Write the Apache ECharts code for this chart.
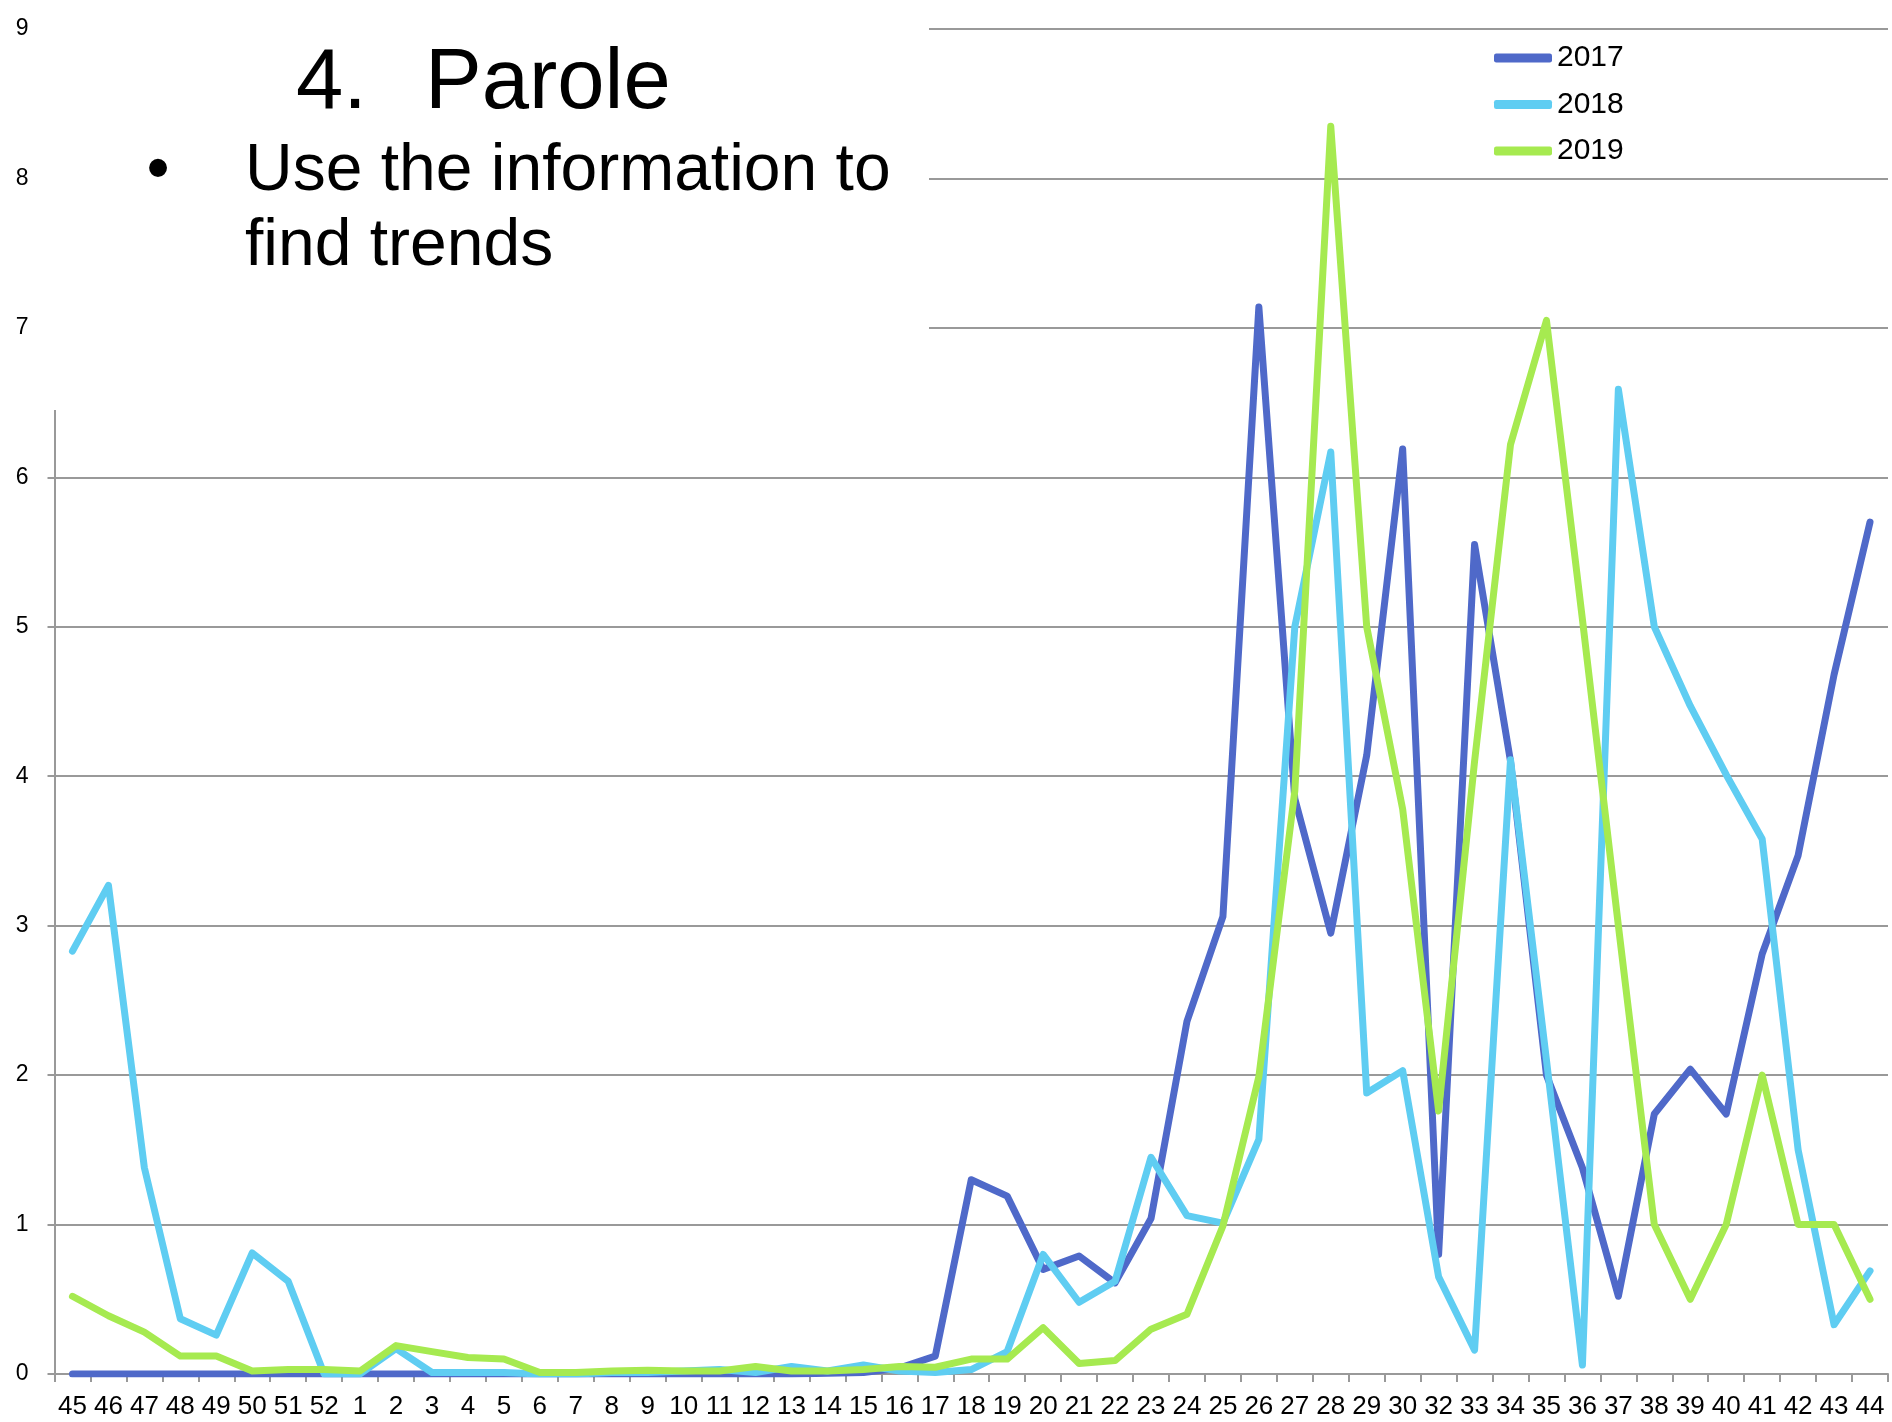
<!DOCTYPE html>
<html>
<head>
<meta charset="utf-8">
<script src="https://cdn.jsdelivr.net/npm/echarts@6/dist/echarts.min.js"></script>
<style>
  html, body { margin: 0; padding: 0; background: #fff; }
  #main { width: 1892px; height: 1422px; }
</style>
</head>
<body>
<div id="main"></div>
<script>
// weeks on the x axis (31 is missing in the source)
var weeks = ['45', '46', '47', '48', '49', '50', '51', '52',
    '1', '2', '3', '4', '5', '6', '7', '8', '9', '10', '11', '12', '13', '14', '15', '16', '17',
    '18', '19', '20', '21', '22', '23', '24', '25', '26', '27', '28', '29', '30',
    '32', '33', '34', '35', '36', '37', '38', '39', '40', '41', '42', '43', '44'];

var y2017 = [0, 0, 0, 0, 0, 0, 0, 0,
    0, 0, 0, 0, 0, 0, 0, 0, 0, 0, 0, 0, 0, 0.005, 0.01, 0.04, 0.12,
    1.30, 1.19, 0.70, 0.79, 0.61, 1.04, 2.36, 3.06, 7.14, 3.85, 2.95, 4.14, 6.19,
    0.80, 5.55, 4.1, 2.0, 1.38, 0.52, 1.74, 2.04, 1.74, 2.81, 3.47, 4.68, 5.70];

var y2018 = [2.83, 3.27, 1.38, 0.37, 0.26, 0.81, 0.62, 0,
    0, 0.17, 0.01, 0.01, 0.01, 0, 0, 0.01, 0.01, 0.02, 0.03, 0.01, 0.05, 0.02, 0.06, 0.02, 0.01,
    0.03, 0.15, 0.80, 0.48, 0.62, 1.45, 1.06, 1.01, 1.57, 5.0, 6.17, 1.88, 2.03,
    0.65, 0.16, 4.11, 2.1, 0.06, 6.59, 5.0, 4.47, 4.01, 3.58, 1.5, 0.33, 0.69];

var y2019 = [0.52, 0.39, 0.28, 0.12, 0.12, 0.02, 0.03, 0.03,
    0.02, 0.19, 0.15, 0.11, 0.10, 0.01, 0.01, 0.02, 0.025, 0.02, 0.02, 0.05, 0.02, 0.02, 0.03, 0.05, 0.045,
    0.1, 0.1, 0.31, 0.07, 0.09, 0.30, 0.40, 0.99, 1.99, 3.9, 8.35, 5.0, 3.78,
    1.76, 4.1, 6.22, 7.05, 5.05, 3.0, 1.0, 0.5, 1.0, 2.0, 1.0, 1.0, 0.5];

var font = 'Liberation Sans';
var grey = '#999';

var myChart = echarts.init(document.getElementById('main'));

function line(name, data, color) {
    return {
        name: name,
        type: 'line',
        data: data,
        symbol: 'none',
        lineStyle: { width: 7, color: color, cap: 'round', join: 'round' },
        itemStyle: { color: color }
    };
}

var option = {
    animation: false,
    backgroundColor: '#fff',
    grid: { left: 54.5, right: 4, top: 29, bottom: 48, containLabel: false, outerBoundsMode: 'none' },
    legend: {
        orient: 'vertical',
        left: 1489,
        top: 38,
        icon: 'roundRect',
        itemWidth: 58,
        itemHeight: 9,
        itemGap: 16.5,
        textStyle: { fontSize: 30, fontFamily: font, color: '#000' },
        data: ['2017', '2018', '2019']
    },
    xAxis: {
        type: 'category',
        data: weeks,
        boundaryGap: true,
        axisLine: { lineStyle: { color: grey, width: 2 } },
        axisTick: { show: true, length: 8, lineStyle: { color: grey, width: 2 } },
        axisLabel: { interval: 0, margin: 20, fontSize: 26, fontFamily: font, color: '#000' },
        splitLine: { show: false }
    },
    yAxis: {
        type: 'value',
        min: 0,
        max: 9,
        interval: 1,
        axisLine: { show: true, lineStyle: { color: grey, width: 2 } },
        axisTick: { show: true, length: 7, lineStyle: { color: grey, width: 2 } },
        axisLabel: { margin: 26, fontSize: 23, fontFamily: font, color: '#000' },
        splitLine: { show: true, lineStyle: { color: grey, width: 2 } }
    },
    graphic: [
        { type: 'rect', z: 10, shape: { x: 40, y: 0, width: 889, height: 410 }, style: { fill: '#fff' } },
        { type: 'text', z: 11, x: 296, y: 85, style: { text: '4.', font: '85px "Liberation Sans"', fill: '#000', textAlign: 'left', textVerticalAlign: 'middle' } },
        { type: 'text', z: 11, x: 425, y: 85, style: { text: 'Parole', font: '85px "Liberation Sans"', fill: '#000', textAlign: 'left', textVerticalAlign: 'middle' } },
        { type: 'text', z: 11, x: 158, y: 172, style: { text: '\u2022', font: '66px "Liberation Sans"', fill: '#000', textAlign: 'center', textVerticalAlign: 'middle' } },
        { type: 'text', z: 11, x: 245, y: 172, style: { text: 'Use the information to', font: '66px "Liberation Sans"', fill: '#000', textAlign: 'left', textVerticalAlign: 'middle' } },
        { type: 'text', z: 11, x: 245, y: 247, style: { text: 'find trends', font: '66px "Liberation Sans"', fill: '#000', textAlign: 'left', textVerticalAlign: 'middle' } }
    ],
    series: [
        line('2017', y2017, '#4f69c9'),
        line('2018', y2018, '#5fcdf2'),
        line('2019', y2019, '#a6ea50')
    ]
};

myChart.setOption(option);
</script>
</body>
</html>
